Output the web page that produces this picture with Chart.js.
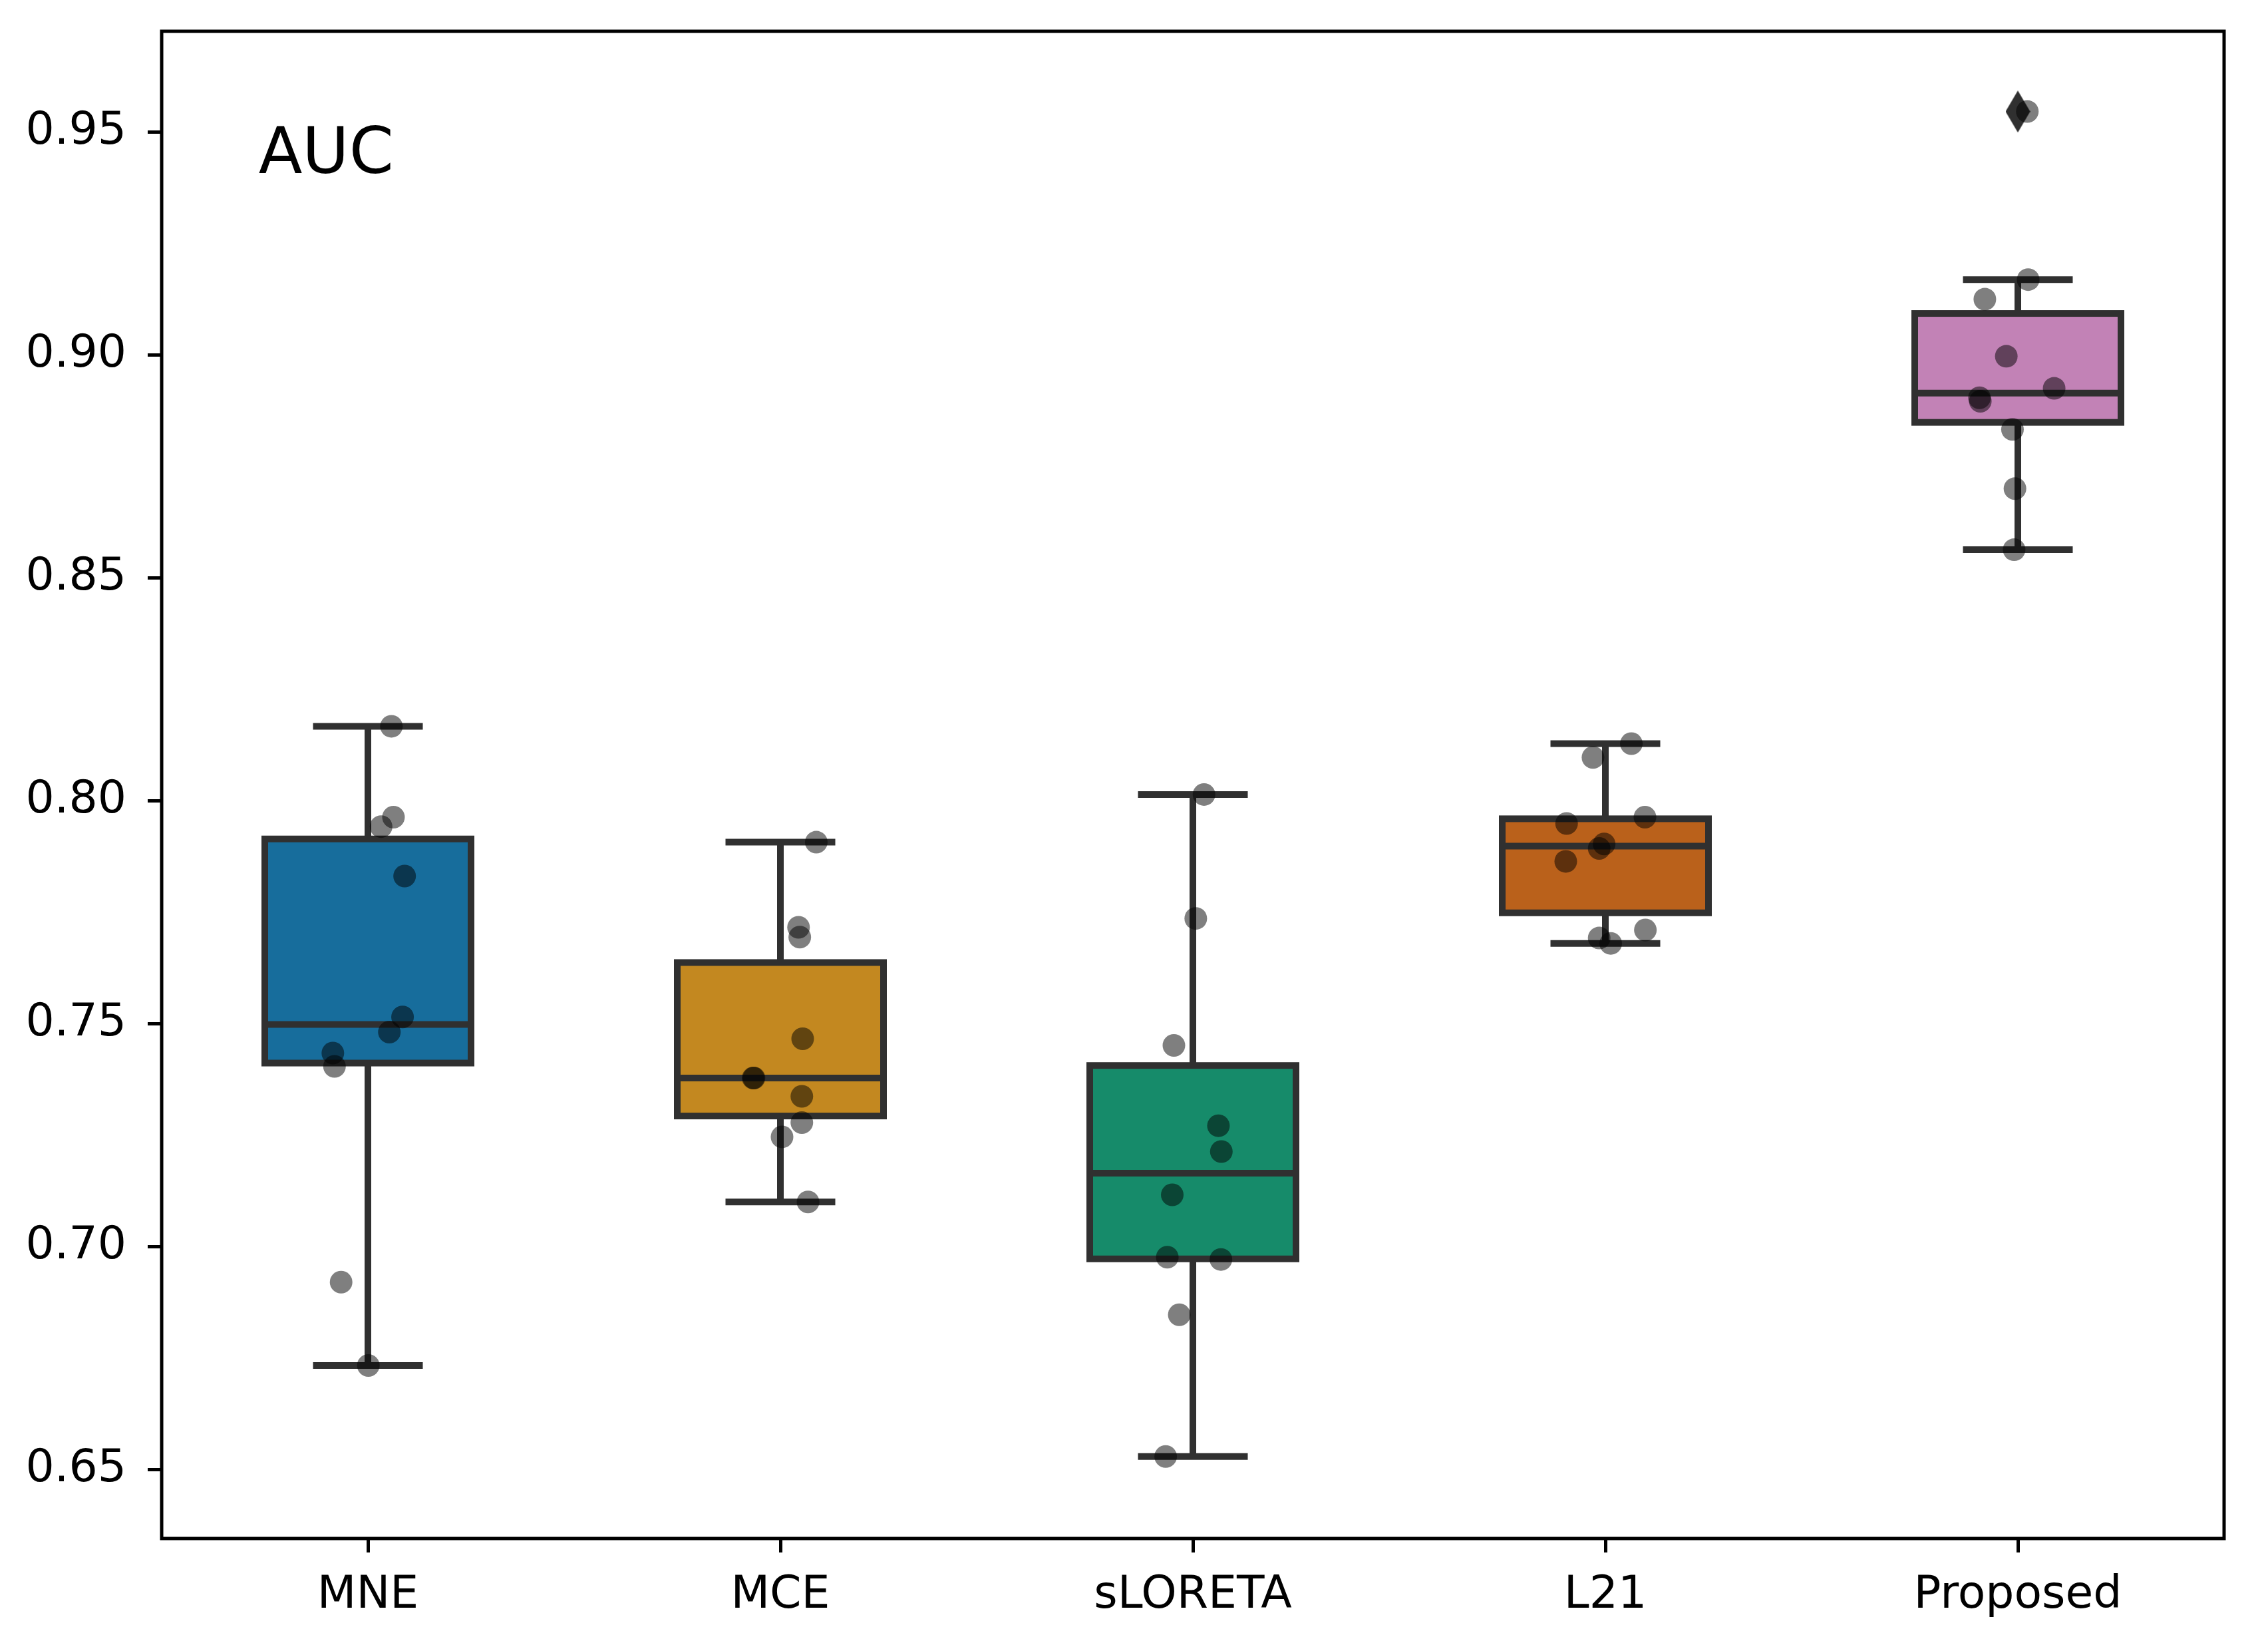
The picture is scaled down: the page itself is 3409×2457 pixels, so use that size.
<!DOCTYPE html>
<html>
<head>
<meta charset="utf-8">
<script src="https://cdn.jsdelivr.net/npm/chart.js@4.4.1/dist/chart.umd.min.js"></script>
<style>
  html, body { margin: 0; padding: 0; background: #fff; }
  canvas { display: block; }
</style>
</head>
<body>
<canvas id="chart" width="3409" height="2457" style="width:3409px;height:2457px"></canvas>
<script>
// categories and per-method AUC values (10 runs each)
const categories = ['MNE', 'MCE', 'sLORETA', 'L21', 'Proposed'];
const mneAUC = [0.8167, 0.7963, 0.7942, 0.7831, 0.7515, 0.7481, 0.7434, 0.7404, 0.6920, 0.6733];
const mceAUC = [0.7907, 0.7716, 0.7694, 0.7466, 0.7378, 0.7378, 0.7337, 0.7278, 0.7246, 0.7100];
const sloretaAUC = [0.8014, 0.7736, 0.7451, 0.7271, 0.7213, 0.7116, 0.6976, 0.6971, 0.6847, 0.6529];
const l21AUC = [0.8128, 0.8097, 0.7963, 0.7949, 0.7903, 0.7893, 0.7864, 0.7710, 0.7692, 0.7680];
const proposedAUC = [0.9546, 0.9169, 0.9125, 0.8997, 0.8925, 0.8904, 0.8896, 0.8833, 0.8700, 0.8563];

// strip-plot jitter (category units) as seen in the figure
const mneJitter = [0.057, 0.062, 0.032, 0.089, 0.084, 0.052, -0.085, -0.081, -0.065, 0.001];
const mceJitter = [0.087, 0.044, 0.047, 0.054, -0.066, -0.064, 0.052, 0.052, 0.004, 0.067];
const sloretaJitter = [0.027, 0.007, -0.046, 0.062, 0.069, -0.050, -0.062, 0.068, -0.033, -0.066];
const l21Jitter = [0.063, -0.030, 0.096, -0.094, -0.003, -0.015, -0.096, 0.097, -0.015, 0.013];
const proposedJitter = [0.023, 0.025, -0.080, -0.028, 0.088, -0.093, -0.091, -0.013, -0.007, -0.009];

const yTicks = [0.65, 0.70, 0.75, 0.80, 0.85, 0.90, 0.95];

const allValues = [mneAUC, mceAUC, sloretaAUC, l21AUC, proposedAUC];
const allJitter = [mneJitter, mceJitter, sloretaJitter, l21Jitter, proposedJitter];
const boxColors = ['#176d9c', '#c38820', '#168b6a', '#ba611b', '#c282b6'];
const lineColor = '#303030';
const FONT = 'DejaVu Sans';

// numpy-style linear quantile
function quantile(sorted, q) {
  const pos = (sorted.length - 1) * q;
  const lo = Math.floor(pos), hi = Math.ceil(pos);
  return sorted[lo] + (sorted[hi] - sorted[lo]) * (pos - lo);
}

const stats = allValues.map(vals => {
  const s = vals.slice().sort((a, b) => a - b);
  const q1 = quantile(s, 0.25), med = quantile(s, 0.5), q3 = quantile(s, 0.75);
  const iqr = q3 - q1;
  const inside = s.filter(v => v >= q1 - 1.5 * iqr && v <= q3 + 1.5 * iqr);
  return {
    q1, med, q3,
    lo: inside[0],
    hi: inside[inside.length - 1],
    out: s.filter(v => v < q1 - 1.5 * iqr || v > q3 + 1.5 * iqr)
  };
});

// thin diamond marker for fliers
const diamond = document.createElement('canvas');
diamond.width = 37; diamond.height = 63;
(function () {
  const c = diamond.getContext('2d');
  c.fillStyle = lineColor;
  c.beginPath();
  c.moveTo(18.5, 0); c.lineTo(37, 31.5); c.lineTo(18.5, 63); c.lineTo(0, 31.5);
  c.closePath(); c.fill();
})();

const boxParts = {
  id: 'boxParts',
  afterDatasetDraw(chart, args) {
    if (args.index !== 0) return;
    const { ctx, scales: { x, y } } = chart;
    ctx.save();
    ctx.strokeStyle = lineColor;
    ctx.lineWidth = 10;
    stats.forEach((st, i) => {
      const xc = x.getPixelForValue(i);
      const half = x.getPixelForValue(i + 0.25) - xc;
      const capHalf = x.getPixelForValue(i + 0.125) - xc;
      const y1 = y.getPixelForValue(st.q1), y3 = y.getPixelForValue(st.q3);
      const ym = y.getPixelForValue(st.med);
      const ylo = y.getPixelForValue(st.lo), yhi = y.getPixelForValue(st.hi);

      ctx.lineJoin = 'miter';
      ctx.lineCap = 'butt';
      ctx.strokeRect(xc - half, y3, 2 * half, y1 - y3);

      ctx.beginPath();
      ctx.moveTo(xc - half, ym); ctx.lineTo(xc + half, ym);
      ctx.moveTo(xc, y1); ctx.lineTo(xc, ylo);
      ctx.moveTo(xc, y3); ctx.lineTo(xc, yhi);
      ctx.stroke();

      ctx.lineCap = 'square';
      ctx.beginPath();
      ctx.moveTo(xc - capHalf, ylo); ctx.lineTo(xc + capHalf, ylo);
      ctx.moveTo(xc - capHalf, yhi); ctx.lineTo(xc + capHalf, yhi);
      ctx.stroke();
    });
    ctx.restore();
  },
  afterDraw(chart) {
    const { ctx, chartArea: a } = chart;
    ctx.save();
    ctx.strokeStyle = '#000';
    ctx.lineWidth = 5;
    ctx.lineJoin = 'miter';
    ctx.strokeRect(a.left, a.top, a.right - a.left, a.bottom - a.top);
    ctx.fillStyle = '#000';
    ctx.font = '96px "' + FONT + '"';
    ctx.textBaseline = 'alphabetic';
    ctx.textAlign = 'left';
    ctx.fillText('AUC', a.left + 0.047 * (a.right - a.left), a.top + 0.094 * (a.bottom - a.top));
    ctx.restore();
  }
};

const stripPoints = [];
allValues.forEach((vals, i) => {
  vals.forEach((v, k) => stripPoints.push({ x: i + allJitter[i][k], y: v }));
});
const fliers = [];
stats.forEach((st, i) => st.out.forEach(v => fliers.push({ x: i, y: v })));

const tickGrid = { display: true, drawOnChartArea: false, drawTicks: true, tickLength: 21, tickWidth: 5, tickColor: '#000', offset: false };

new Chart(document.getElementById('chart'), {
  type: 'bar',
  data: {
    datasets: [
      {
        type: 'bar',
        data: stats.map((st, i) => ({ x: i, y: [st.q1, st.q3] })),
        backgroundColor: boxColors,
        borderWidth: 0,
        barPercentage: 0.5,
        categoryPercentage: 1,
        order: 3
      },
      {
        type: 'scatter',
        data: fliers,
        pointStyle: diamond,
        pointRadius: 18,
        order: 2
      },
      {
        type: 'scatter',
        data: stripPoints,
        pointRadius: 17,
        pointHoverRadius: 17,
        backgroundColor: 'rgba(0,0,0,0.5)',
        borderWidth: 0,
        order: 1
      }
    ]
  },
  options: {
    responsive: false,
    devicePixelRatio: 1,
    animation: false,
    events: [],
    layout: { padding: { top: 47, right: 66, left: 0, bottom: 0 } },
    plugins: { legend: { display: false }, tooltip: { enabled: false } },
    scales: {
      x: {
        type: 'linear',
        min: -0.5,
        max: 4.5,
        offset: false,
        bounds: 'data',
        afterBuildTicks: (scale) => { scale.ticks = categories.map((c, i) => ({ value: i })); },
        afterFit: (scale) => {
          scale.height = 145;
          scale.paddingLeft = 0; scale.paddingRight = 0;
        },
        ticks: {
          callback: (v) => categories[v],
          font: { family: FONT, size: 68 },
          color: '#000',
          padding: 25,
          maxRotation: 0,
          autoSkip: false
        },
        grid: tickGrid,
        border: { display: false }
      },
      y: {
        type: 'linear',
        min: 0.6345,
        max: 0.9726,
        bounds: 'data',
        afterBuildTicks: (scale) => { scale.ticks = yTicks.map(v => ({ value: v })); },
        afterFit: (scale) => {
          scale.width = 243;
          scale.paddingTop = 0; scale.paddingBottom = 0;
        },
        ticks: {
          callback: (v) => v.toFixed(2),
          font: { family: FONT, size: 68 },
          color: '#000',
          padding: 32
        },
        grid: tickGrid,
        border: { display: false }
      }
    }
  },
  plugins: [boxParts]
});
</script>
</body>
</html>
